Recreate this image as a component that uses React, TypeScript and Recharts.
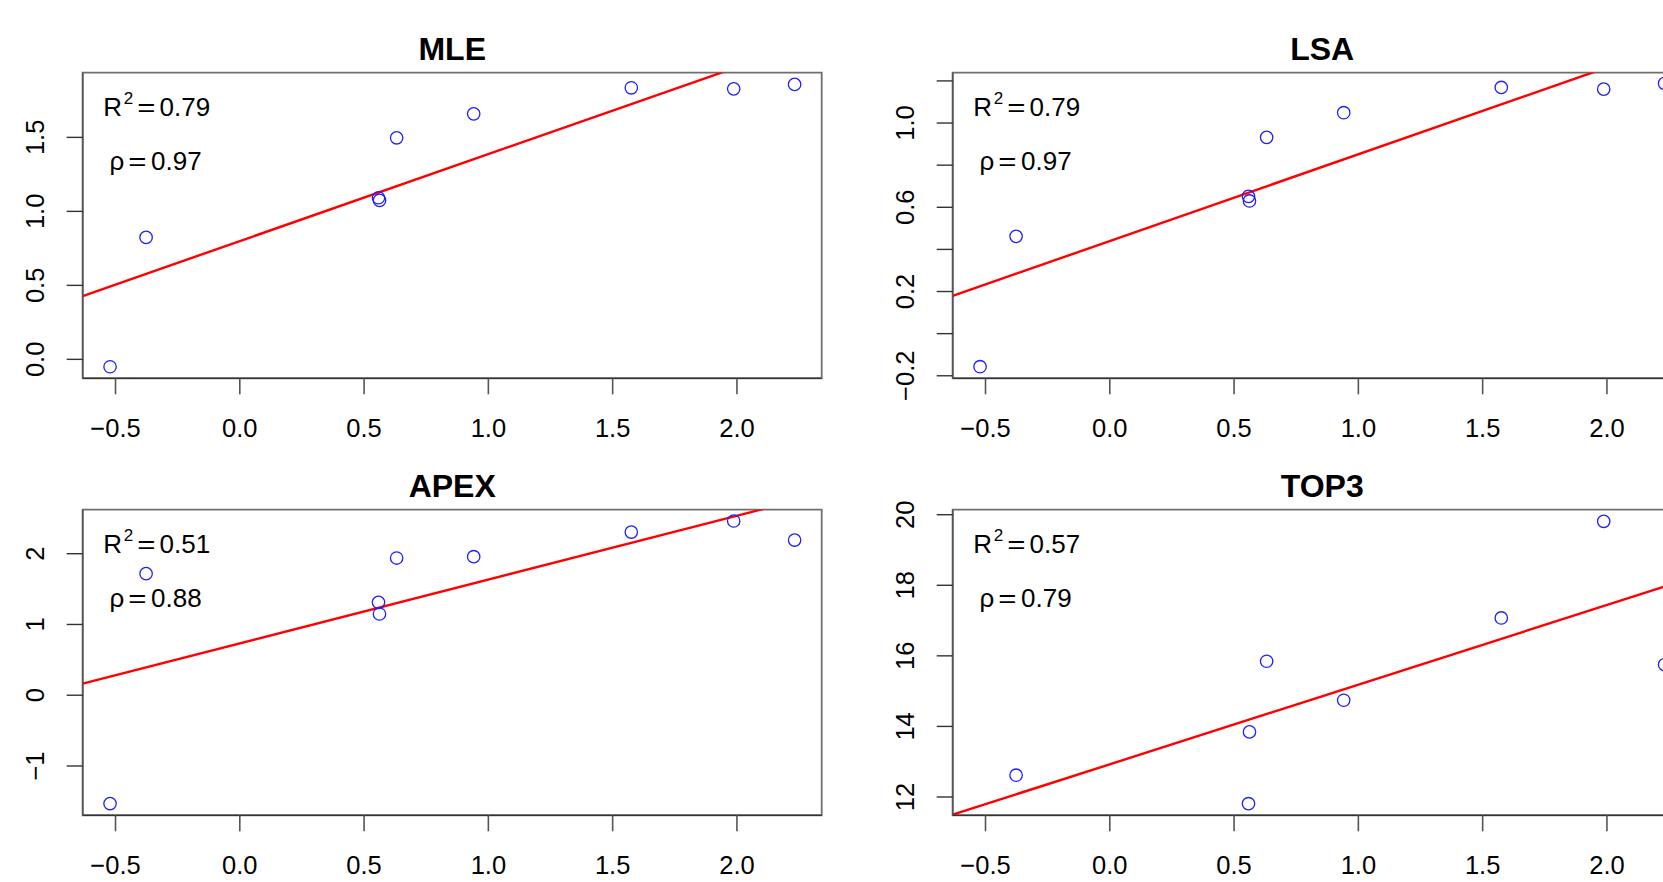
import React from 'react';
import { ScatterChart, Scatter, XAxis, YAxis, ReferenceLine, ReferenceArea } from 'recharts';

// shared x values (one per sample)
const xValues = [-0.522, -0.377, 0.558, 0.562, 0.631, 0.941, 1.575, 1.987, 2.232];

// y values per method (null = missing)
const mleValues = [-0.05, 0.824, 1.092, 1.074, 1.497, 1.659, 1.835, 1.828, 1.858];
const lsaValues = [-0.157, 0.462, 0.652, 0.63, 0.932, 1.049, 1.169, 1.161, 1.188];
const apexValues = [-1.531, 1.718, 1.313, 1.148, 1.939, 1.958, 2.306, 2.462, 2.193];
const top3Values = [null, 12.617, 11.81, 13.844, 15.847, 14.742, 17.074, 19.813, 15.75];

// fitted lines: [intercept, slope]
const mleFit = [0.799, 0.5876];
const lsaFit = [0.4397, 0.412];
const apexFit = [0.733, 0.9015];
const top3Fit = [12.926, 2.258];

const titles = ['MLE', 'LSA', 'APEX', 'TOP3'];
const r2Labels = ['0.79', '0.79', '0.51', '0.57'];
const rhoLabels = ['0.97', '0.97', '0.88', '0.79'];

const xTicks = [-0.5, 0, 0.5, 1, 1.5, 2];
const xDomain = [-0.632, 2.341];

const mleTicks = [0, 0.5, 1, 1.5];
const lsaTicks = [-0.2, 0, 0.2, 0.4, 0.6, 0.8, 1, 1.2];
const lsaShown = [-0.2, 0.2, 0.6, 1];
const apexTicks = [-1, 0, 1, 2];
const top3Ticks = [12, 14, 16, 18, 20];

const mleDomain = [-0.128, 1.937];
const lsaDomain = [-0.212, 1.239];
const apexDomain = [-1.697, 2.622];
const top3Domain = [11.481, 20.142];

const FONT = '"Liberation Sans", Arial, Helvetica, sans-serif';
const W = 840;
const H = 441;
const BOX_L = 82.7;
const BOX_R = 821.7;
const BOX_T = 72.7;
const BOX_B = 378.3;
const TICK = 16;

const fmt = (v: number, digits: number) => v.toFixed(digits).replace('-', '\u2212');

function XTick(props: any) {
  const { x, y, payload } = props;
  return (
    <text x={x} y={y} textAnchor="middle" fontSize={25.5} fontFamily={FONT} fill="#000">
      {fmt(payload.value, 1)}
    </text>
  );
}

function makeYTick(digits: number, shown?: number[]) {
  return (props: any) => {
    const { x, y, payload } = props;
    const v = payload.value as number;
    if (shown && !shown.some((s) => Math.abs(s - v) < 1e-9)) return <g />;
    return (
      <text
        x={x}
        y={y}
        transform={`rotate(-90 ${x} ${y})`}
        textAnchor="middle"
        fontSize={25.5}
        fontFamily={FONT}
        fill="#000"
      >
        {fmt(v, digits)}
      </text>
    );
  };
}

function Ring(props: any) {
  const { cx, cy } = props;
  if (cx == null || cy == null) return <g />;
  return <circle cx={cx} cy={cy} r={6.2} fill="none" stroke="#1f1fff" strokeWidth={1.3} />;
}

// slightly wide "=" like R's plotmath, centred on x
function Eq({ x, y }: { x: number; y: number }) {
  return (
    <text
      transform={`translate(${x} ${y}) scale(1.2 1)`}
      textAnchor="middle"
      fontSize={26}
      fill="#000"
    >
      =
    </text>
  );
}

interface PanelProps {
  idx: number;
  left: number;
  top: number;
  values: (number | null)[];
  fit: number[];
  yDomain: number[];
  yTicks: number[];
  digits: number;
  shown?: number[];
}

function Panel({ idx, left, top, values, fit, yDomain, yTicks, digits, shown }: PanelProps) {
  const data = xValues
    .map((x, i) => ({ x, y: values[i] }))
    .filter((d) => d.y !== null);
  const [a, b] = fit;
  const seg = [
    { x: xDomain[0], y: a + b * xDomain[0] },
    { x: xDomain[1], y: a + b * xDomain[1] },
  ];
  const cx = (BOX_L + BOX_R) / 2;
  return (
    <div style={{ position: 'absolute', left, top, width: W, height: H }}>
      <ScatterChart
        width={W}
        height={H}
        margin={{ top: BOX_T, right: W - BOX_R, bottom: 0, left: 0 }}
      >
        <XAxis
          type="number"
          dataKey="x"
          domain={xDomain}
          ticks={xTicks}
          allowDataOverflow
          height={H - BOX_B}
          tickSize={TICK}
          tickMargin={436.5 - BOX_B - TICK}
          axisLine={{ stroke: '#333', strokeWidth: 1.6 }}
          tickLine={{ stroke: '#555', strokeWidth: 1.6 }}
          tick={XTick}
          interval={0}
        />
        <YAxis
          type="number"
          dataKey="y"
          domain={yDomain}
          ticks={yTicks}
          allowDataOverflow
          width={BOX_L}
          tickSize={TICK}
          tickMargin={BOX_L - TICK - 43.8}
          axisLine={{ stroke: '#555', strokeWidth: 1.6 }}
          tickLine={{ stroke: '#333', strokeWidth: 1.4 }}
          tick={makeYTick(digits, shown)}
          interval={0}
        />
        <ReferenceArea
          x1={xDomain[0]}
          x2={xDomain[1]}
          y1={yDomain[0]}
          y2={yDomain[1]}
          fill="none"
          fillOpacity={0}
          stroke="#6f6f6f"
          strokeWidth={1.8}
          ifOverflow="visible"
        />
        <ReferenceLine segment={seg} stroke="#ff0000" strokeWidth={2.4} ifOverflow="hidden" />
        <Scatter data={data} shape={Ring} isAnimationActive={false} />
      </ScatterChart>
      <svg
        width={W}
        height={H}
        style={{ position: 'absolute', left: 0, top: 0, pointerEvents: 'none' }}
        fontFamily={FONT}
      >
        <text x={cx} y={60} textAnchor="middle" fontSize={32} fontWeight="bold" fill="#000">
          {titles[idx]}
        </text>
        <text x={103.3} y={116} fontSize={26} fill="#000">R</text>
        <text x={123.8} y={103.5} fontSize={17} fill="#000">2</text>
        <Eq x={146.4} y={116} />
        <text x={159.5} y={116} fontSize={26} fill="#000">{r2Labels[idx]}</text>
        <text x={109.5} y={170} fontSize={26} fill="#000">{'\u03c1'}</text>
        <Eq x={137.4} y={170} />
        <text x={151} y={170} fontSize={26} fill="#000">{rhoLabels[idx]}</text>
      </svg>
    </div>
  );
}

export default function App() {
  return (
    <div
      style={{
        position: 'absolute',
        left: 0,
        top: 0,
        width: 1663,
        height: 882,
        overflow: 'hidden',
        background: '#fff',
        fontFamily: FONT,
      }}
    >
      <Panel idx={0} left={0} top={0} values={mleValues} fit={mleFit} yDomain={mleDomain} yTicks={mleTicks} digits={1} />
      <Panel idx={1} left={870} top={0} values={lsaValues} fit={lsaFit} yDomain={lsaDomain} yTicks={lsaTicks} digits={1} shown={lsaShown} />
      <Panel idx={2} left={0} top={436.5} values={apexValues} fit={apexFit} yDomain={apexDomain} yTicks={apexTicks} digits={0} />
      <Panel idx={3} left={870} top={436.5} values={top3Values} fit={top3Fit} yDomain={top3Domain} yTicks={top3Ticks} digits={0} />
    </div>
  );
}
